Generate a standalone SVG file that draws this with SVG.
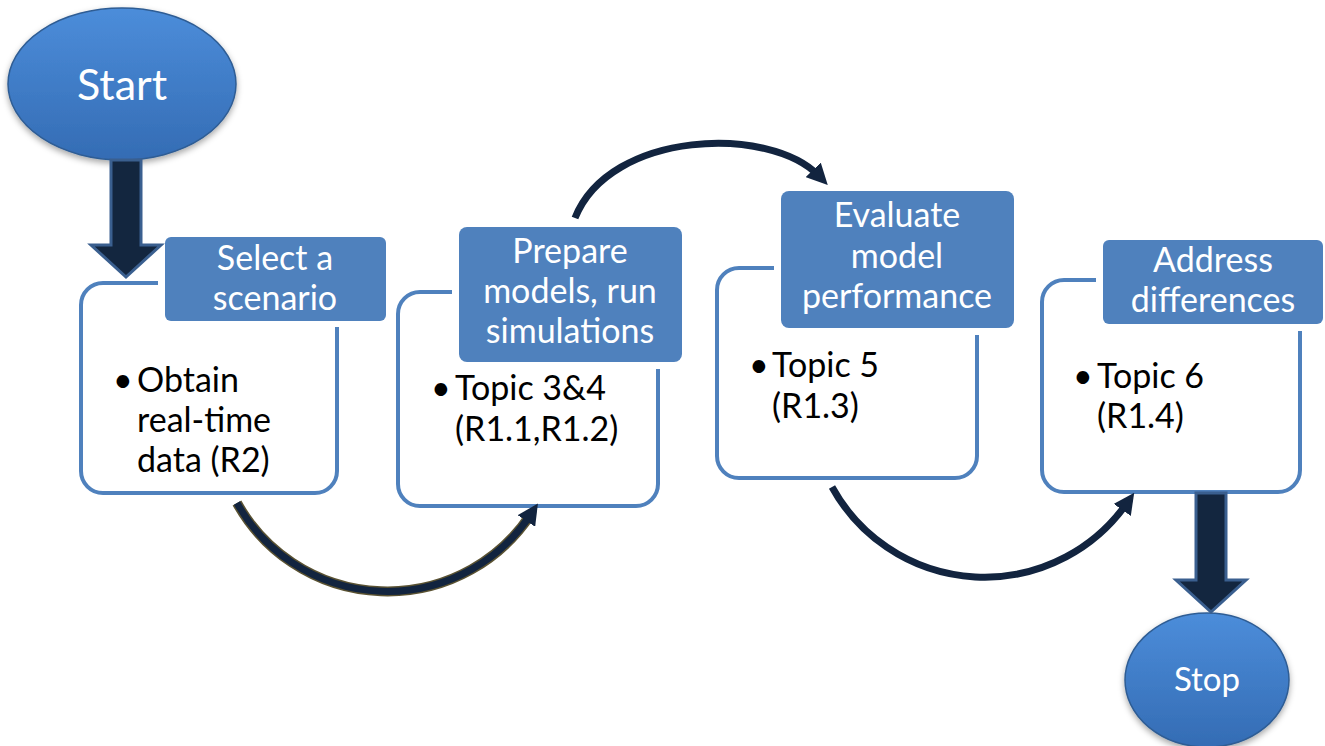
<svg xmlns="http://www.w3.org/2000/svg" width="1325" height="746" viewBox="0 0 1325 746">
<style>
.body{fill:#fff;stroke:#4F81BD;stroke-width:4}
.gap{fill:#fff}
.title{fill:#4F81BD}
.tt{font-family:Lato,"Liberation Sans",sans-serif;font-size:34px;fill:#fff;text-anchor:middle}
.bt{font-family:Lato,"Liberation Sans",sans-serif;font-size:34px;fill:#000}
.oval{fill:url(#og);stroke:#2F5D94;stroke-width:1.5;filter:url(#sh)}
.ot{font-family:Lato,"Liberation Sans",sans-serif;fill:#fff;text-anchor:middle}
.big{fill:#13263F;stroke:#3A5F8F;stroke-width:3}
.curve{fill:none;stroke:#12243F;stroke-width:7;marker-end:url(#ah)}
</style>
<defs>
<linearGradient id="og" x1="0" y1="0" x2="0" y2="1">
<stop offset="0" stop-color="#4C8DDA"/>
<stop offset="1" stop-color="#346CB4"/>
</linearGradient>
<filter id="sh" x="-20%" y="-20%" width="140%" height="150%">
<feDropShadow dx="0" dy="3" stdDeviation="3" flood-color="#000" flood-opacity="0.35"/>
</filter>
<marker id="ah" viewBox="0 0 10 10" refX="4" refY="5" markerWidth="3" markerHeight="3" orient="auto">
<path d="M0,0 L10,5 L0,10 z" fill="#12243F"/>
</marker>
</defs>

<g id="start">
<ellipse class="oval" cx="122" cy="84" rx="114" ry="76"/>
<text class="ot" x="122" y="100" font-size="43">Start</text>
</g>

<g id="step1">
<rect class="body" x="81" y="283" width="256" height="210" rx="22"/>
<rect class="gap" x="158" y="230" width="235" height="97"/>
<rect class="title" x="165" y="237" width="221" height="84" rx="6"/>
<text class="tt" x="275" y="270">Select a</text>
<text class="tt" x="275" y="310">scenario</text>
<text class="bt" x="113" y="392">•</text>
<text class="bt" x="137" y="392">Obtain</text>
<text class="bt" x="137" y="432">real-time</text>
<text class="bt" x="137" y="472">data (R2)</text>
</g>

<g id="step2">
<rect class="body" x="398" y="292" width="260" height="214" rx="22"/>
<rect class="gap" x="452" y="220" width="237" height="149"/>
<rect class="title" x="459" y="227" width="223" height="135" rx="8"/>
<text class="tt" x="570" y="263">Prepare</text>
<text class="tt" x="570" y="303">models, run</text>
<text class="tt" x="570" y="343">simulations</text>
<text class="bt" x="431" y="400">•</text>
<text class="bt" x="455" y="400">Topic 3&amp;4</text>
<text class="bt" x="455" y="441">(R1.1,R1.2)</text>
</g>

<g id="step3">
<rect class="body" x="717" y="268" width="260" height="210" rx="22"/>
<rect class="gap" x="774" y="184" width="247" height="151"/>
<rect class="title" x="781" y="191" width="233" height="137" rx="8"/>
<text class="tt" x="897" y="227">Evaluate</text>
<text class="tt" x="897" y="268">model</text>
<text class="tt" x="897" y="308">performance</text>
<text class="bt" x="749" y="377">•</text>
<text class="bt" x="772" y="377">Topic 5</text>
<text class="bt" x="772" y="418">(R1.3)</text>
</g>

<g id="step4">
<rect class="body" x="1042" y="280" width="258" height="212" rx="22"/>
<rect class="gap" x="1096" y="233" width="229" height="98"/>
<rect class="title" x="1103" y="240" width="220" height="84" rx="6"/>
<text class="tt" x="1213" y="272">Address</text>
<text class="tt" x="1213" y="312">differences</text>
<text class="bt" x="1073" y="388">•</text>
<text class="bt" x="1097" y="388">Topic 6</text>
<text class="bt" x="1097" y="428">(R1.4)</text>
</g>

<g id="stop">
<ellipse class="oval" cx="1207" cy="680" rx="82" ry="67"/>
<text class="ot" x="1207" y="691" font-size="33">Stop</text>
</g>

<g id="connectors">
<polygon class="big" points="111,160 141,160 141,245 161,245 126,277 91,245 111,245"/>
<polygon class="big" points="1196,493 1226,493 1226,580 1246,580 1211,612 1176,580 1196,580"/>
<path d="M237,503 A172 172 0 0 0 531,514" fill="none" stroke="#5A5232" stroke-width="10"/>
<path class="curve" d="M237,503 A172 172 0 0 0 531,514"/>
<path class="curve" d="M575,218 C610,130 770,125 819,176"/>
<path class="curve" d="M832,487 A174 174 0 0 0 1127,503"/>
</g>
</svg>
